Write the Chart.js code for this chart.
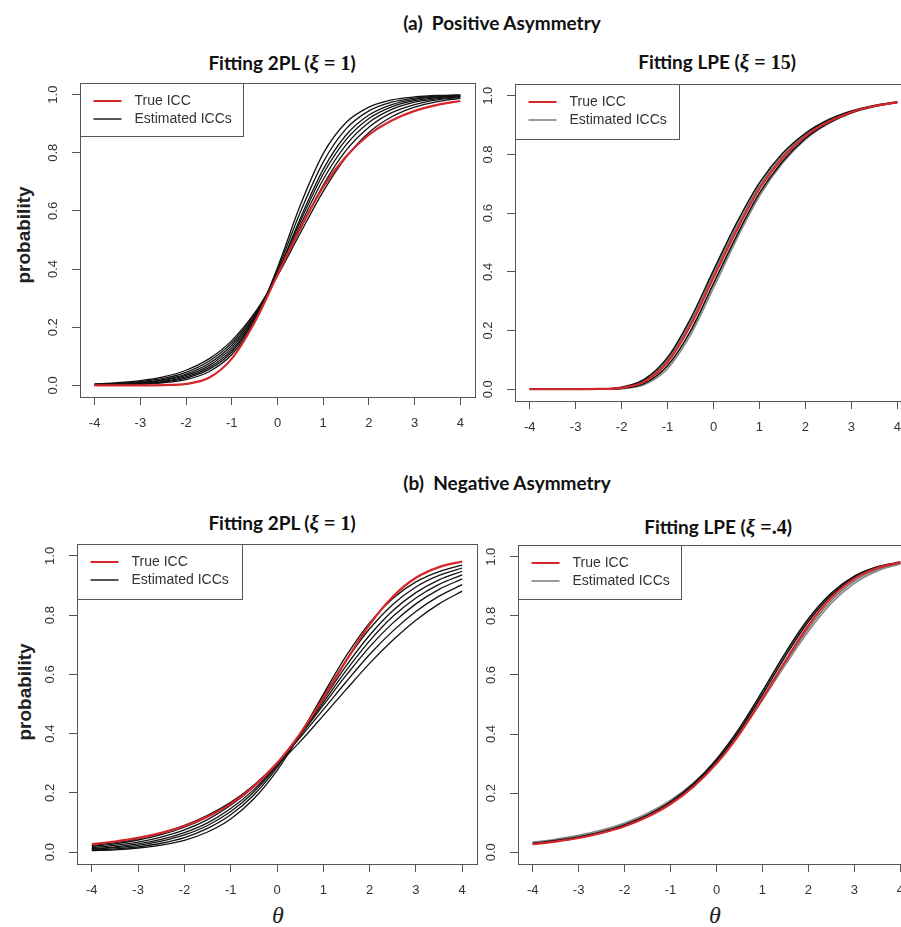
<!DOCTYPE html>
<html>
<head>
<meta charset="utf-8">
<script src="https://cdn.jsdelivr.net/npm/chart.js@4.4.1/dist/chart.umd.min.js"></script>
<style>
html, body { margin: 0; padding: 0; background: #fff; }
body { width: 901px; height: 927px; position: relative; overflow: hidden; }
canvas { position: absolute; }
.hdr, .ttl { position: absolute; transform: translate(-50%, -50%); white-space: nowrap;
  font-family: Lato, "Open Sans", sans-serif; font-weight: bold; font-size: 19px; color: #111; }
.xi { font-family: "Liberation Serif", "DejaVu Serif", serif; font-style: italic; font-weight: bold; font-size: 21px; }
.m { font-family: "Liberation Serif", "DejaVu Serif", serif; font-weight: bold; font-size: 20px; }
.ylab { position: absolute; transform: translate(-50%, -50%) rotate(-90deg); white-space: nowrap;
  font-family: "Liberation Sans", Arial, sans-serif; font-weight: bold; font-size: 19px; color: #222; }
.theta { position: absolute; transform: translate(-50%, -50%);
  font-family: "Liberation Serif", serif; font-style: italic; font-size: 24px; color: #222; }
</style>
</head>
<body>
<div class="hdr" style="left:502px;top:22px">(a)&nbsp; Positive Asymmetry</div>
<div class="hdr" style="left:507px;top:482px">(b)&nbsp; Negative Asymmetry</div>

<div class="ttl" style="left:282px;top:63px">Fitting 2PL (<span class="xi">ξ</span><span class="m"> = 1</span>)</div>
<div class="ttl" style="left:717px;top:62px">Fitting LPE (<span class="xi">ξ</span><span class="m"> = 15</span>)</div>
<div class="ttl" style="left:282px;top:523px">Fitting 2PL (<span class="xi">ξ</span><span class="m"> = 1</span>)</div>
<div class="ttl" style="left:718px;top:527px">Fitting LPE (<span class="xi">ξ</span><span class="m"> =.4</span>)</div>

<div class="ylab" style="left:24px;top:235px">probability</div>
<div class="ylab" style="left:25px;top:692px">probability</div>
<div class="theta" style="left:278px;top:915px">θ</div>
<div class="theta" style="left:715px;top:915px">θ</div>

<canvas id="pa2pl"></canvas>
<canvas id="palpe"></canvas>
<canvas id="pb2pl"></canvas>
<canvas id="pblpe"></canvas>

<script>
// ability grid and axis ticks
const theta = [-4, -3.5, -3, -2.5, -2, -1.5, -1, -0.5, 0, 0.5, 1, 1.5, 2, 2.5, 3, 3.5, 4];
const xTicks = [-4, -3, -2, -1, 0, 1, 2, 3, 4];
const yTicks = [0, 0.2, 0.4, 0.6, 0.8, 1.0];
const legendLabels = ['True ICC', 'Estimated ICCs'];

// (a) positive asymmetry - true curve
const truePos = [0.000, 0.000, 0.000, 0.001, 0.005, 0.026, 0.092, 0.217, 0.380, 0.540, 0.683, 0.787, 0.862, 0.911, 0.944, 0.965, 0.978];

// (a) estimated curves, 2PL fit
const est2plPos = [
  [0.001, 0.0015, 0.004, 0.009, 0.020, 0.047, 0.106, 0.221, 0.405, 0.620, 0.797, 0.904, 0.957, 0.982, 0.992, 0.997, 0.999],
  [0.001, 0.002, 0.005, 0.011, 0.025, 0.055, 0.115, 0.226, 0.397, 0.596, 0.768, 0.882, 0.944, 0.974, 0.988, 0.995, 0.998],
  [0.001, 0.003, 0.007, 0.014, 0.029, 0.061, 0.122, 0.229, 0.388, 0.575, 0.743, 0.861, 0.930, 0.966, 0.984, 0.992, 0.996],
  [0.002, 0.004, 0.008, 0.017, 0.034, 0.068, 0.130, 0.235, 0.387, 0.564, 0.727, 0.845, 0.918, 0.958, 0.979, 0.990, 0.995],
  [0.003, 0.005, 0.010, 0.020, 0.039, 0.075, 0.138, 0.239, 0.383, 0.551, 0.708, 0.827, 0.904, 0.949, 0.974, 0.986, 0.993],
  [0.004, 0.007, 0.013, 0.024, 0.045, 0.083, 0.146, 0.245, 0.381, 0.538, 0.689, 0.808, 0.888, 0.938, 0.966, 0.982, 0.990],
  [0.005, 0.009, 0.016, 0.029, 0.052, 0.091, 0.154, 0.249, 0.377, 0.524, 0.667, 0.785, 0.870, 0.924, 0.957, 0.976, 0.987]
];

// (a) estimated curves, LPE fit
const estLpePos = [
  [0.000, 0.000, 0.000, 0.001, 0.007, 0.034, 0.108, 0.240, 0.405, 0.565, 0.703, 0.803, 0.872, 0.918, 0.948, 0.967, 0.979],
  [0.000, 0.000, 0.000, 0.001, 0.006, 0.030, 0.100, 0.228, 0.392, 0.552, 0.693, 0.795, 0.867, 0.914, 0.946, 0.966, 0.978],
  [0.000, 0.000, 0.000, 0.000, 0.003, 0.020, 0.080, 0.198, 0.360, 0.522, 0.668, 0.776, 0.855, 0.907, 0.942, 0.964, 0.977],
  [0.000, 0.000, 0.000, 0.000, 0.002, 0.016, 0.070, 0.185, 0.345, 0.510, 0.658, 0.770, 0.851, 0.905, 0.941, 0.963, 0.977]
];

// (b) negative asymmetry - true curve
const trueNeg = [0.027, 0.036, 0.048, 0.065, 0.088, 0.120, 0.163, 0.222, 0.300, 0.400, 0.520, 0.648, 0.768, 0.862, 0.926, 0.962, 0.981];

// (b) estimated curves, 2PL fit
const est2plNeg = [
  [0.005, 0.008, 0.014, 0.024, 0.040, 0.068, 0.112, 0.180, 0.275, 0.397, 0.533, 0.664, 0.774, 0.856, 0.912, 0.947, 0.969],
  [0.007, 0.011, 0.018, 0.030, 0.049, 0.080, 0.126, 0.193, 0.285, 0.399, 0.526, 0.648, 0.754, 0.836, 0.895, 0.934, 0.959],
  [0.009, 0.015, 0.023, 0.037, 0.058, 0.090, 0.137, 0.203, 0.291, 0.397, 0.514, 0.630, 0.732, 0.815, 0.876, 0.919, 0.948],
  [0.012, 0.018, 0.028, 0.043, 0.066, 0.099, 0.147, 0.211, 0.295, 0.395, 0.505, 0.614, 0.713, 0.795, 0.858, 0.904, 0.936],
  [0.015, 0.023, 0.034, 0.051, 0.075, 0.110, 0.158, 0.221, 0.300, 0.394, 0.496, 0.598, 0.693, 0.773, 0.838, 0.887, 0.922],
  [0.019, 0.028, 0.041, 0.059, 0.084, 0.119, 0.166, 0.226, 0.300, 0.387, 0.481, 0.576, 0.667, 0.746, 0.812, 0.864, 0.903],
  [0.023, 0.032, 0.046, 0.064, 0.090, 0.124, 0.168, 0.225, 0.294, 0.373, 0.461, 0.550, 0.637, 0.715, 0.783, 0.838, 0.881]
];

// (b) estimated curves, LPE fit
const estLpeNeg = [
  [0.030, 0.039, 0.051, 0.068, 0.092, 0.125, 0.170, 0.232, 0.315, 0.420, 0.545, 0.675, 0.790, 0.877, 0.934, 0.966, 0.982],
  [0.028, 0.037, 0.049, 0.066, 0.089, 0.122, 0.166, 0.227, 0.308, 0.411, 0.534, 0.664, 0.781, 0.870, 0.930, 0.964, 0.981],
  [0.034, 0.044, 0.057, 0.075, 0.099, 0.132, 0.176, 0.235, 0.310, 0.405, 0.515, 0.635, 0.748, 0.843, 0.910, 0.952, 0.976],
  [0.031, 0.041, 0.053, 0.071, 0.095, 0.128, 0.172, 0.230, 0.306, 0.402, 0.518, 0.642, 0.758, 0.852, 0.918, 0.957, 0.978]
];

const RED = '#d7262b';
const PADL = 70, PADB = 45, PADT = 10, PADR = 10;

function pts(vals) {
  return vals.map((v, i) => ({ x: theta[i], y: v }));
}

// R-like box, rotated y tick labels and legend
const rStyle = {
  id: 'rStyle',
  afterDraw(chart, args, opts) {
    const ctx = chart.ctx;
    const ca = chart.chartArea;
    const ys = chart.scales.y;
    ctx.save();
    ctx.strokeStyle = '#555';
    ctx.lineWidth = 1;
    ctx.strokeRect(ca.left + 0.5, ca.top + 0.5, ca.right - ca.left, ca.bottom - ca.top);

    ctx.fillStyle = '#333';
    ctx.font = '13px "Liberation Sans", Arial, sans-serif';
    ctx.textAlign = 'center';
    ctx.textBaseline = 'middle';
    yTicks.forEach(v => {
      ctx.save();
      ctx.translate(ca.left - 27, ys.getPixelForValue(v));
      ctx.rotate(-Math.PI / 2);
      ctx.fillText(v.toFixed(1), 0, 0);
      ctx.restore();
    });

    // legend
    const lx = ca.left + 0.5, ly = ca.top + 0.5;
    ctx.fillStyle = '#fff';
    ctx.fillRect(lx, ly, opts.w, opts.h);
    ctx.strokeStyle = '#555';
    ctx.strokeRect(lx, ly, opts.w, opts.h);
    const rows = [ly + 17.5, ly + 35.5];
    const cols = [RED, opts.gray];
    rows.forEach((ry, i) => {
      ctx.strokeStyle = cols[i];
      ctx.lineWidth = 2;
      ctx.beginPath();
      ctx.moveTo(lx + 13, ry);
      ctx.lineTo(lx + 41, ry);
      ctx.stroke();
      ctx.fillStyle = '#333';
      ctx.font = '14px "Liberation Sans", Arial, sans-serif';
      ctx.textAlign = 'left';
      ctx.fillText(legendLabels[i], lx + 54, ry);
    });
    ctx.restore();
  }
};

function makePanel(id, box, trueVals, estList, estColors, estWidth, legendOpts) {
  const cv = document.getElementById(id);
  cv.width = box.r - box.l + PADL + PADR;
  cv.height = box.b - box.t + PADT + PADB;
  cv.style.left = (box.l - PADL) + 'px';
  cv.style.top = (box.t - PADT) + 'px';

  const datasets = [{
    label: legendLabels[0],
    data: pts(trueVals),
    borderColor: RED,
    borderWidth: 2.2
  }];
  estList.forEach((row, i) => {
    datasets.push({
      label: legendLabels[1],
      data: pts(row),
      borderColor: estColors[i % estColors.length],
      borderWidth: estWidth
    });
  });

  const axisGrid = { drawOnChartArea: false, drawTicks: true, tickLength: 8, color: '#555' };

  return new Chart(cv, {
    type: 'line',
    data: { datasets },
    options: {
      responsive: false,
      animation: false,
      devicePixelRatio: 1,
      layout: { padding: { left: 0, top: PADT, right: PADR, bottom: 0 } },
      plugins: { legend: { display: false }, tooltip: { enabled: false }, rStyle: legendOpts },
      elements: { point: { radius: 0 }, line: { cubicInterpolationMode: 'monotone', fill: false } },
      scales: {
        x: {
          type: 'linear', min: -4.32, max: 4.32,
          afterBuildTicks: s => { s.ticks = xTicks.map(v => ({ value: v })); },
          afterFit: s => { s.height = PADB; },
          grid: axisGrid,
          border: { display: false },
          ticks: {
            padding: 11, color: '#333', maxRotation: 0, autoSkip: false,
            font: { family: '"Liberation Sans", Arial, sans-serif', size: 13 },
            callback: v => String(v)
          }
        },
        y: {
          type: 'linear', min: -0.04, max: 1.04,
          afterBuildTicks: s => { s.ticks = yTicks.map(v => ({ value: v })); },
          afterFit: s => { s.width = PADL; },
          grid: axisGrid,
          border: { display: false },
          ticks: { display: false }
        }
      }
    },
    plugins: [rStyle]
  });
}

makePanel('pa2pl', { l: 80, t: 83, r: 475, b: 397 }, truePos, est2plPos, ['#111'], 1.3, { w: 163, h: 53, gray: '#555' });
makePanel('palpe', { l: 515, t: 84, r: 912, b: 401 }, truePos, estLpePos, ['#111', '#777', '#111', '#888'], 1.6, { w: 164, h: 55, gray: '#9a9a9a' });
makePanel('pb2pl', { l: 77, t: 544, r: 477, b: 864 }, trueNeg, est2plNeg, ['#111'], 1.3, { w: 165, h: 55, gray: '#555' });
makePanel('pblpe', { l: 518, t: 545, r: 915, b: 864 }, trueNeg, estLpeNeg, ['#111', '#111', '#888', '#777'], 1.6, { w: 163, h: 54, gray: '#9a9a9a' });
</script>
</body>
</html>
